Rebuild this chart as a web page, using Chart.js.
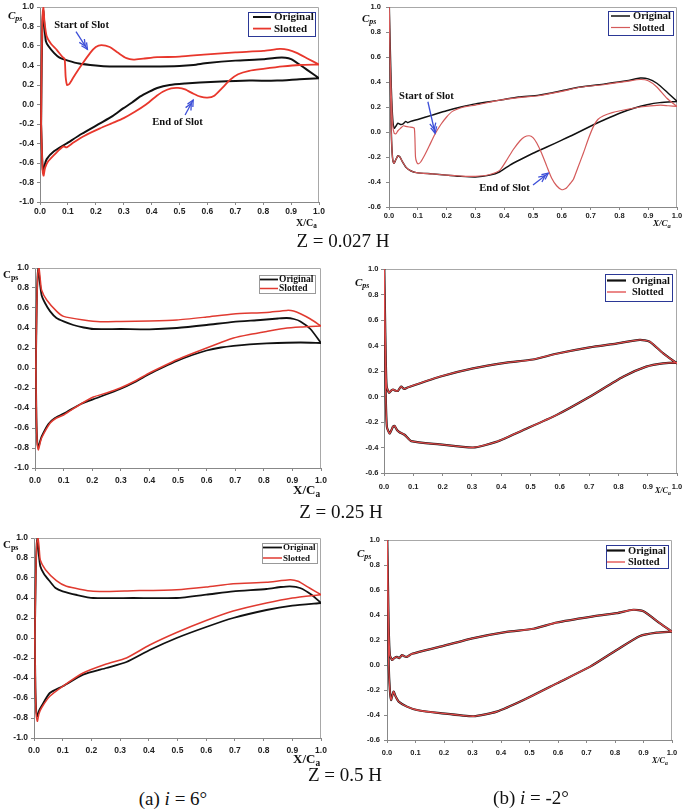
<!DOCTYPE html>
<html>
<head>
<meta charset="utf-8">
<script src="https://cdn.jsdelivr.net/npm/chart.js@4.4.1/dist/chart.umd.min.js"></script>
<style>
  body { margin: 0; background: #fff; }
  #fig { position: relative; width: 685px; height: 809px; overflow: hidden; background: #fff; }
  #fig canvas { position: absolute; }
  .t { position: absolute; font-family: "Liberation Serif", serif; line-height: 1; white-space: nowrap; color: #111; font-weight: bold; }
  .t sub { font-size: 72%; vertical-align: -0.3em; line-height: 0; }
  .cap { font-size: 19px; font-weight: normal; transform: translateX(-50%); }
</style>
</head>
<body>
<div id="fig">
  <!-- axis titles -->
  <span class="t" style="left:8px;top:10px;font-size:11px"><i>C<sub>ps</sub></i></span>
  <span class="t" style="left:296px;top:218px;font-size:10px">X/C<sub>a</sub></span>
  <span class="t" style="left:362px;top:13px;font-size:11px"><i>C<sub>ps</sub></i></span>
  <span class="t" style="left:653px;top:219px;font-size:9px"><i>X/C<sub>a</sub></i></span>
  <span class="t" style="left:3px;top:269px;font-size:11px">C<sub>ps</sub></span>
  <span class="t" style="left:293px;top:483px;font-size:13px">X/C<sub>a</sub></span>
  <span class="t" style="left:355px;top:277px;font-size:11px"><i>C<sub>ps</sub></i></span>
  <span class="t" style="left:655px;top:487px;font-size:8px"><i>X/C<sub>a</sub></i></span>
  <span class="t" style="left:3px;top:539px;font-size:11px">C<sub>ps</sub></span>
  <span class="t" style="left:293px;top:752px;font-size:13px">X/C<sub>a</sub></span>
  <span class="t" style="left:357px;top:548px;font-size:11px"><i>C<sub>ps</sub></i></span>
  <span class="t" style="left:652px;top:757px;font-size:8px"><i>X/C<sub>a</sub></i></span>
  <!-- captions -->
  <span class="t cap" style="left:343px;top:231px">Z = 0.027 H</span>
  <span class="t cap" style="left:341px;top:502px">Z = 0.25 H</span>
  <span class="t cap" style="left:345px;top:765px">Z = 0.5 H</span>
  <span class="t cap" style="left:173px;top:789px">(a) <i>i</i> = 6°</span>
  <span class="t cap" style="left:531px;top:788px">(b) <i>i</i> = -2°</span>
</div>
<script>
// x / Cax, Cps pairs, leading edge -> trailing edge, for each surface

// i = 6 deg, Z = 0.027 H
const p1OrigUpper = [[0.004,-0.2],[0.006,0.4],[0.009,0.85],[0.012,0.96],[0.016,0.8],[0.021,0.65],[0.03,0.6],[0.05,0.53],[0.07,0.48],[0.1,0.45],[0.14,0.42],[0.2,0.40],[0.25,0.39],[0.3,0.39],[0.4,0.39],[0.5,0.395],[0.55,0.405],[0.6,0.425],[0.7,0.45],[0.8,0.465],[0.85,0.48],[0.88,0.48],[0.9,0.465],[0.93,0.41],[0.96,0.35],[1.0,0.27]];
const p1OrigLower = [[0.004,-0.2],[0.007,-0.5],[0.01,-0.67],[0.013,-0.69],[0.017,-0.62],[0.024,-0.56],[0.05,-0.48],[0.095,-0.4],[0.15,-0.3],[0.215,-0.194],[0.26,-0.12],[0.298,-0.04],[0.33,0.02],[0.358,0.08],[0.39,0.13],[0.42,0.17],[0.465,0.2],[0.52,0.215],[0.573,0.225],[0.65,0.235],[0.75,0.245],[0.85,0.245],[0.93,0.26],[1.0,0.27]];
const p1SlotUpper = [[0.004,-0.2],[0.006,0.5],[0.009,0.9],[0.012,1.0],[0.016,0.85],[0.024,0.70],[0.04,0.62],[0.06,0.56],[0.08,0.49],[0.088,0.47],[0.09,0.4],[0.092,0.28],[0.097,0.2],[0.105,0.21],[0.12,0.28],[0.15,0.41],[0.18,0.53],[0.2,0.59],[0.22,0.61],[0.25,0.59],[0.28,0.53],[0.31,0.475],[0.335,0.46],[0.37,0.47],[0.42,0.485],[0.5,0.49],[0.6,0.515],[0.7,0.535],[0.8,0.55],[0.86,0.57],[0.89,0.56],[0.92,0.53],[0.96,0.47],[1.0,0.41]];
const p1SlotLower = [[0.004,-0.2],[0.007,-0.5],[0.01,-0.7],[0.013,-0.73],[0.018,-0.65],[0.03,-0.58],[0.06,-0.49],[0.084,-0.43],[0.095,-0.44],[0.12,-0.39],[0.16,-0.32],[0.215,-0.245],[0.26,-0.19],[0.3,-0.14],[0.34,-0.075],[0.38,0.0],[0.41,0.07],[0.44,0.13],[0.47,0.165],[0.495,0.17],[0.52,0.155],[0.55,0.11],[0.575,0.08],[0.6,0.07],[0.625,0.09],[0.65,0.16],[0.68,0.25],[0.71,0.31],[0.75,0.345],[0.8,0.365],[0.87,0.39],[0.93,0.405],[1.0,0.41]];

// i = -2 deg, Z = 0.027 H
const p2OrigUpper = [[0.001,1.0],[0.004,0.7],[0.008,0.35],[0.013,0.1],[0.018,0.03],[0.025,0.05],[0.031,0.07],[0.04,0.06],[0.049,0.065],[0.058,0.085],[0.065,0.075],[0.075,0.085],[0.1,0.1],[0.15,0.135],[0.2,0.17],[0.25,0.2],[0.3,0.225],[0.385,0.255],[0.45,0.28],[0.52,0.295],[0.6,0.33],[0.664,0.36],[0.75,0.385],[0.826,0.41],[0.872,0.432],[0.9,0.425],[0.93,0.39],[0.965,0.32],[1.0,0.245]];
const p2OrigLower = [[0.001,1.0],[0.004,0.5],[0.008,0.0],[0.012,-0.2],[0.017,-0.25],[0.024,-0.22],[0.031,-0.19],[0.038,-0.2],[0.046,-0.235],[0.06,-0.285],[0.075,-0.31],[0.095,-0.325],[0.15,-0.335],[0.2,-0.345],[0.25,-0.355],[0.3,-0.36],[0.35,-0.345],[0.385,-0.318],[0.42,-0.265],[0.455,-0.222],[0.5,-0.17],[0.548,-0.12],[0.6,-0.065],[0.64,-0.022],[0.71,0.058],[0.75,0.1],[0.803,0.152],[0.85,0.19],[0.896,0.218],[0.94,0.235],[1.0,0.245]];
const p2SlotUpper = [[0.001,1.0],[0.004,0.6],[0.008,0.3],[0.013,0.05],[0.018,-0.01],[0.024,-0.015],[0.031,0.01],[0.04,0.03],[0.05,0.05],[0.058,0.045],[0.07,0.04],[0.084,0.035],[0.088,0.03],[0.09,-0.05],[0.092,-0.2],[0.096,-0.24],[0.101,-0.255],[0.11,-0.24],[0.125,-0.18],[0.14,-0.11],[0.159,-0.02],[0.18,0.06],[0.2,0.12],[0.22,0.165],[0.245,0.19],[0.27,0.205],[0.3,0.215],[0.385,0.255],[0.45,0.275],[0.52,0.29],[0.6,0.325],[0.664,0.358],[0.75,0.38],[0.826,0.405],[0.872,0.42],[0.9,0.41],[0.93,0.36],[0.965,0.27],[1.0,0.205]];
const p2SlotLower = [[0.001,1.0],[0.004,0.5],[0.008,0.0],[0.012,-0.2],[0.017,-0.25],[0.024,-0.22],[0.031,-0.19],[0.038,-0.2],[0.046,-0.235],[0.06,-0.285],[0.075,-0.31],[0.095,-0.325],[0.15,-0.335],[0.2,-0.345],[0.25,-0.352],[0.3,-0.355],[0.35,-0.34],[0.385,-0.305],[0.41,-0.22],[0.431,-0.142],[0.455,-0.07],[0.47,-0.04],[0.487,-0.03],[0.5,-0.045],[0.513,-0.088],[0.53,-0.17],[0.548,-0.275],[0.565,-0.37],[0.582,-0.43],[0.6,-0.462],[0.615,-0.45],[0.63,-0.41],[0.64,-0.38],[0.655,-0.29],[0.675,-0.168],[0.693,-0.05],[0.71,0.045],[0.725,0.1],[0.745,0.13],[0.775,0.155],[0.803,0.17],[0.872,0.2],[0.942,0.215],[0.97,0.21],[1.0,0.205]];

// i = 6 deg, Z = 0.25 H
const p3OrigUpper = [[0.003,0.0],[0.006,0.6],[0.009,0.92],[0.012,1.0],[0.016,0.88],[0.023,0.73],[0.035,0.65],[0.053,0.566],[0.075,0.5],[0.1,0.466],[0.134,0.43],[0.17,0.405],[0.204,0.39],[0.3,0.39],[0.4,0.387],[0.496,0.4],[0.6,0.43],[0.694,0.462],[0.788,0.48],[0.85,0.495],[0.88,0.5],[0.905,0.49],[0.928,0.466],[0.963,0.39],[1.0,0.25]];
const p3OrigLower = [[0.003,0.0],[0.005,-0.5],[0.008,-0.74],[0.012,-0.793],[0.017,-0.74],[0.023,-0.686],[0.047,-0.56],[0.07,-0.5],[0.111,-0.44],[0.16,-0.36],[0.216,-0.3],[0.298,-0.21],[0.35,-0.14],[0.4,-0.06],[0.45,0.01],[0.496,0.07],[0.55,0.13],[0.6,0.175],[0.65,0.205],[0.694,0.222],[0.75,0.237],[0.81,0.246],[0.928,0.255],[1.0,0.25]];
const p3SlotUpper = [[0.003,0.0],[0.006,0.6],[0.01,0.95],[0.014,1.0],[0.018,0.9],[0.023,0.78],[0.041,0.68],[0.076,0.566],[0.1,0.516],[0.17,0.48],[0.228,0.462],[0.3,0.465],[0.4,0.47],[0.496,0.48],[0.6,0.51],[0.694,0.54],[0.81,0.556],[0.88,0.576],[0.904,0.57],[0.93,0.54],[0.963,0.49],[1.0,0.42]];
const p3SlotLower = [[0.003,0.0],[0.005,-0.5],[0.008,-0.76],[0.012,-0.82],[0.017,-0.76],[0.023,-0.7],[0.053,-0.55],[0.075,-0.5],[0.1,-0.47],[0.16,-0.36],[0.204,-0.29],[0.25,-0.25],[0.298,-0.2],[0.35,-0.13],[0.4,-0.05],[0.45,0.02],[0.496,0.082],[0.55,0.145],[0.6,0.2],[0.65,0.255],[0.694,0.3],[0.75,0.335],[0.81,0.366],[0.87,0.395],[0.928,0.41],[1.0,0.42]];

// i = -2 deg, Z = 0.25 H (both cases almost coincide)
const p4OrigUpper = [[0.001,1.0],[0.003,0.7],[0.006,0.3],[0.009,0.08],[0.017,0.03],[0.024,0.045],[0.031,0.055],[0.04,0.045],[0.048,0.045],[0.055,0.07],[0.059,0.077],[0.065,0.065],[0.07,0.06],[0.08,0.07],[0.088,0.077],[0.19,0.155],[0.304,0.22],[0.418,0.265],[0.508,0.29],[0.588,0.335],[0.702,0.385],[0.793,0.415],[0.873,0.444],[0.907,0.43],[0.952,0.34],[1.0,0.26]];
const p4OrigLower = [[0.001,1.0],[0.003,0.5],[0.006,0.0],[0.01,-0.24],[0.019,-0.29],[0.026,-0.26],[0.031,-0.235],[0.036,-0.23],[0.045,-0.265],[0.053,-0.28],[0.07,-0.3],[0.093,-0.35],[0.19,-0.375],[0.304,-0.4],[0.383,-0.356],[0.474,-0.264],[0.588,-0.146],[0.702,-0.002],[0.816,0.155],[0.895,0.234],[0.952,0.26],[1.0,0.265]];
const p4SlotUpper = p4OrigUpper;
const p4SlotLower = p4OrigLower;

// i = 6 deg, Z = 0.5 H
const p5OrigUpper = [[0.003,0.0],[0.006,0.6],[0.009,0.92],[0.012,1.0],[0.016,0.86],[0.022,0.717],[0.035,0.64],[0.055,0.567],[0.075,0.5],[0.1,0.467],[0.15,0.43],[0.206,0.4],[0.345,0.4],[0.497,0.4],[0.6,0.433],[0.694,0.467],[0.81,0.49],[0.86,0.51],[0.892,0.517],[0.927,0.5],[0.967,0.433],[1.0,0.35]];
const p5OrigLower = [[0.003,0.0],[0.005,-0.5],[0.008,-0.74],[0.012,-0.783],[0.017,-0.73],[0.026,-0.683],[0.055,-0.55],[0.1,-0.483],[0.171,-0.367],[0.252,-0.3],[0.322,-0.24],[0.403,-0.12],[0.497,0.0],[0.6,0.11],[0.694,0.2],[0.81,0.28],[0.9,0.323],[1.0,0.35]];
const p5SlotUpper = [[0.003,0.0],[0.006,0.6],[0.01,0.95],[0.014,1.0],[0.018,0.9],[0.022,0.78],[0.04,0.683],[0.078,0.573],[0.113,0.517],[0.206,0.467],[0.345,0.473],[0.497,0.483],[0.6,0.51],[0.694,0.543],[0.81,0.557],[0.892,0.583],[0.92,0.567],[0.96,0.5],[1.0,0.433]];
const p5SlotLower = [[0.003,0.0],[0.005,-0.5],[0.008,-0.78],[0.012,-0.833],[0.017,-0.76],[0.026,-0.7],[0.055,-0.583],[0.1,-0.483],[0.171,-0.35],[0.252,-0.26],[0.322,-0.2],[0.403,-0.07],[0.497,0.055],[0.6,0.175],[0.694,0.27],[0.81,0.35],[0.9,0.4],[1.0,0.433]];

// i = -2 deg, Z = 0.5 H (both cases almost coincide)
const p6OrigUpper = [[0.001,1.0],[0.003,0.7],[0.006,0.3],[0.01,0.08],[0.018,0.04],[0.025,0.055],[0.035,0.065],[0.043,0.055],[0.053,0.08],[0.06,0.07],[0.07,0.065],[0.08,0.08],[0.088,0.09],[0.187,0.147],[0.304,0.215],[0.42,0.265],[0.514,0.29],[0.596,0.34],[0.713,0.385],[0.806,0.415],[0.864,0.442],[0.9,0.43],[0.958,0.333],[1.0,0.267]];
const p6OrigLower = [[0.001,1.0],[0.003,0.5],[0.006,0.0],[0.01,-0.2],[0.014,-0.28],[0.023,-0.213],[0.03,-0.25],[0.041,-0.293],[0.07,-0.333],[0.105,-0.36],[0.187,-0.385],[0.304,-0.41],[0.385,-0.373],[0.479,-0.28],[0.596,-0.147],[0.713,-0.013],[0.806,0.12],[0.888,0.232],[0.946,0.259],[1.0,0.267]];
const p6SlotUpper = p6OrigUpper;
const p6SlotLower = p6OrigLower;

const seriesNames = ['Original', 'Slotted'];
const xTicks = [0, 1, 0.1];          // min, max, step
const yTicksA = [-1, 1, 0.2];        // i = 6 deg
const yTicksB = [-0.6, 1, 0.2];      // i = -2 deg

// closed loop: upper surface LE->TE, then lower surface TE->LE
function loop(upper, lower) {
  return upper.concat(lower.slice().reverse()).map(p => ({ x: p[0], y: p[1] }));
}

const BLUE = '#2b3896';

const frame = {
  id: 'frame',
  beforeDatasetsDraw(chart) {
    const { ctx, chartArea: a } = chart;
    ctx.save();
    ctx.strokeStyle = '#a8a8a8';
    ctx.lineWidth = 1;
    ctx.beginPath();
    ctx.moveTo(a.left, a.top + 0.5);
    ctx.lineTo(a.right - 0.5, a.top + 0.5);
    ctx.lineTo(a.right - 0.5, a.bottom);
    ctx.stroke();
    ctx.restore();
  }
};

const boxLegend = {
  id: 'boxLegend',
  afterDatasetsDraw(chart, args, o) {
    if (!o || !o.w) return;
    const { ctx, chartArea: a } = chart;
    const x = a.left + o.left, y = a.top + o.top;
    ctx.save();
    ctx.fillStyle = '#fff';
    ctx.fillRect(x, y, o.w, o.h);
    ctx.strokeStyle = o.border;
    ctx.lineWidth = 1;
    ctx.strokeRect(x + 0.5, y + 0.5, o.w, o.h);
    ctx.font = 'bold ' + o.size + 'px "Liberation Serif"';
    ctx.textBaseline = 'middle';
    chart.data.datasets.forEach((ds, i) => {
      const cy = y + o.rows[i];
      ctx.strokeStyle = ds.borderColor;
      ctx.lineWidth = ds.borderWidth;
      ctx.beginPath();
      ctx.moveTo(x + o.line[0], cy);
      ctx.lineTo(x + o.line[1], cy);
      ctx.stroke();
      ctx.fillStyle = '#111';
      ctx.fillText(ds.label, x + o.text, cy + 0.5);
    });
    ctx.restore();
  }
};

function arrow(ctx, x0, y0, x1, y1) {
  const ang = Math.atan2(y1 - y0, x1 - x0);
  ctx.beginPath();
  ctx.moveTo(x0, y0);
  ctx.lineTo(x1, y1);
  ctx.stroke();
  for (const back of [0, 4]) {
    const tx = x1 - back * Math.cos(ang), ty = y1 - back * Math.sin(ang);
    ctx.beginPath();
    ctx.moveTo(tx - 7 * Math.cos(ang - 0.45), ty - 7 * Math.sin(ang - 0.45));
    ctx.lineTo(tx, ty);
    ctx.lineTo(tx - 7 * Math.cos(ang + 0.45), ty - 7 * Math.sin(ang + 0.45));
    ctx.stroke();
  }
}

const notes = {
  id: 'notes',
  afterDatasetsDraw(chart, args, o) {
    if (!o || !o.items) return;
    const { ctx } = chart;
    const sx = chart.scales.x, sy = chart.scales.y;
    ctx.save();
    o.items.forEach(n => {
      ctx.font = 'bold ' + o.size + 'px "Liberation Serif"';
      ctx.fillStyle = '#111';
      ctx.textAlign = 'center';
      ctx.textBaseline = 'middle';
      ctx.fillText(n.text, sx.getPixelForValue(n.at[0]), sy.getPixelForValue(n.at[1]));
      ctx.strokeStyle = '#3d4fd8';
      ctx.lineWidth = 1.3;
      arrow(ctx, sx.getPixelForValue(n.from[0]), sy.getPixelForValue(n.from[1]),
                 sx.getPixelForValue(n.to[0]), sy.getPixelForValue(n.to[1]));
    });
    ctx.restore();
  }
};

const panels = [
  { L: 40, T: 7, R: 319, B: 202, y: yTicksA, orig: [p1OrigUpper, p1OrigLower], slot: [p1SlotUpper, p1SlotLower],
    tick: 8.5, xpad: 2, ypad: 3, lw: [2, 1.8], red: '#e8372c',
    legend: { left: 208, top: 5, w: 67, h: 24, line: [5, 23], text: 26, rows: [5, 16.6], size: 11, border: BLUE },
    notes: { size: 10.6, items: [
      { text: 'Start of Slot', at: [0.149, 0.815], from: [0.129, 0.747], to: [0.17, 0.566] },
      { text: 'End of Slot', at: [0.493, -0.183], from: [0.52, -0.108], to: [0.549, 0.046] } ] } },
  { L: 389, T: 7, R: 677, B: 207, y: yTicksB, orig: [p2OrigUpper, p2OrigLower], slot: [p2SlotUpper, p2SlotLower],
    tick: 7.5, xpad: 1, ypad: 5, lw: [1.5, 1.2], red: '#d45a5a',
    legend: { left: 219, top: 4, w: 65, h: 24, line: [3, 22], text: 25, rows: [5, 16.5], size: 10.5, border: BLUE },
    notes: { size: 10.6, items: [
      { text: 'Start of Slot', at: [0.13, 0.282], from: [0.135, 0.242], to: [0.16, -0.01] },
      { text: 'End of Slot', at: [0.401, -0.45], from: [0.5, -0.424], to: [0.553, -0.33] } ] } },
  { L: 35, T: 268, R: 321, B: 468, y: yTicksA, orig: [p3OrigUpper, p3OrigLower], slot: [p3SlotUpper, p3SlotLower],
    tick: 8.5, xpad: 5, ypad: 3, lw: [1.8, 1.5], red: '#e03a30',
    legend: { left: 224, top: 7, w: 56, h: 18, line: [1, 19], text: 20, rows: [4.5, 13.5], size: 9.5, border: '#999' } },
  { L: 384, T: 269, R: 677, B: 473, y: yTicksB, orig: [p4OrigUpper, p4OrigLower], slot: [p4SlotUpper, p4SlotLower],
    tick: 7.5, xpad: 6, ypad: 2.5, lw: [2.2, 1.3], red: '#e04848',
    legend: { left: 221, top: 5, w: 67, h: 27, line: [2, 21], text: 27, rows: [6.5, 18], size: 10.5, border: BLUE } },
  { L: 34, T: 538, R: 321, B: 738, y: yTicksA, orig: [p5OrigUpper, p5OrigLower], slot: [p5SlotUpper, p5SlotLower],
    tick: 8.5, xpad: 5, ypad: 3, lw: [1.8, 1.5], red: '#e03a30',
    legend: { left: 228, top: 5, w: 55, h: 20, line: [1, 20], text: 21, rows: [4.5, 15], size: 9, border: '#999' } },
  { L: 387, T: 540, R: 672, B: 740, y: yTicksB, orig: [p6OrigUpper, p6OrigLower], slot: [p6SlotUpper, p6SlotLower],
    tick: 7.5, xpad: 5, ypad: 4, lw: [2.2, 1.3], red: '#e04848',
    legend: { left: 219, top: 5, w: 62, h: 23, line: [1, 19], text: 22, rows: [5.5, 17], size: 10.5, border: BLUE } }
];

const fig = document.getElementById('fig');

panels.forEach(p => {
  const yw = Math.min(40, p.L);
  const padTop = 7, padRight = 8, xh = 24;
  const cv = document.createElement('canvas');
  cv.width = yw + (p.R - p.L) + padRight;
  cv.height = padTop + (p.B - p.T) + xh;
  cv.style.left = (p.L - yw) + 'px';
  cv.style.top = (p.T - padTop) + 'px';
  fig.insertBefore(cv, fig.firstChild);

  const tickFont = { family: '"Liberation Sans", Arial, sans-serif', size: p.tick, weight: 'bold' };
  const noPad = s => { s.paddingLeft = 0; s.paddingRight = 0; s.paddingTop = 0; s.paddingBottom = 0; };

  new Chart(cv, {
    type: 'scatter',
    data: {
      datasets: [
        { label: seriesNames[0], data: loop(p.orig[0], p.orig[1]), borderColor: '#111', borderWidth: p.lw[0], order: 1 },
        { label: seriesNames[1], data: loop(p.slot[0], p.slot[1]), borderColor: p.red, borderWidth: p.lw[1], order: 0 }
      ]
    },
    options: {
      responsive: false,
      animation: false,
      showLine: true,
      layout: { padding: { top: padTop, right: padRight, left: 0, bottom: 0 } },
      elements: { point: { radius: 0, hoverRadius: 0 }, line: { tension: 0.2, fill: false } },
      plugins: {
        legend: { display: false },
        tooltip: { enabled: false },
        boxLegend: p.legend,
        notes: p.notes || {}
      },
      scales: {
        x: {
          type: 'linear', min: xTicks[0], max: xTicks[1],
          ticks: { stepSize: xTicks[2], font: tickFont, color: '#222', padding: p.xpad, maxRotation: 0,
                   callback: v => v.toFixed(1) },
          grid: { display: true, drawOnChartArea: false, drawTicks: true, tickLength: 3, color: '#888' },
          border: { display: true, color: '#888', width: 1 },
          afterFit: s => { s.height = xh; noPad(s); }
        },
        y: {
          type: 'linear', min: p.y[0], max: p.y[1],
          ticks: { stepSize: p.y[2], font: tickFont, color: '#222', padding: p.ypad,
                   callback: v => v.toFixed(1) },
          grid: { display: true, drawOnChartArea: false, drawTicks: true, tickLength: 3, color: '#888' },
          border: { display: true, color: '#888', width: 1 },
          afterFit: s => { s.width = yw; noPad(s); }
        }
      }
    },
    plugins: [frame, boxLegend, notes]
  });
});
</script>
</body>
</html>
